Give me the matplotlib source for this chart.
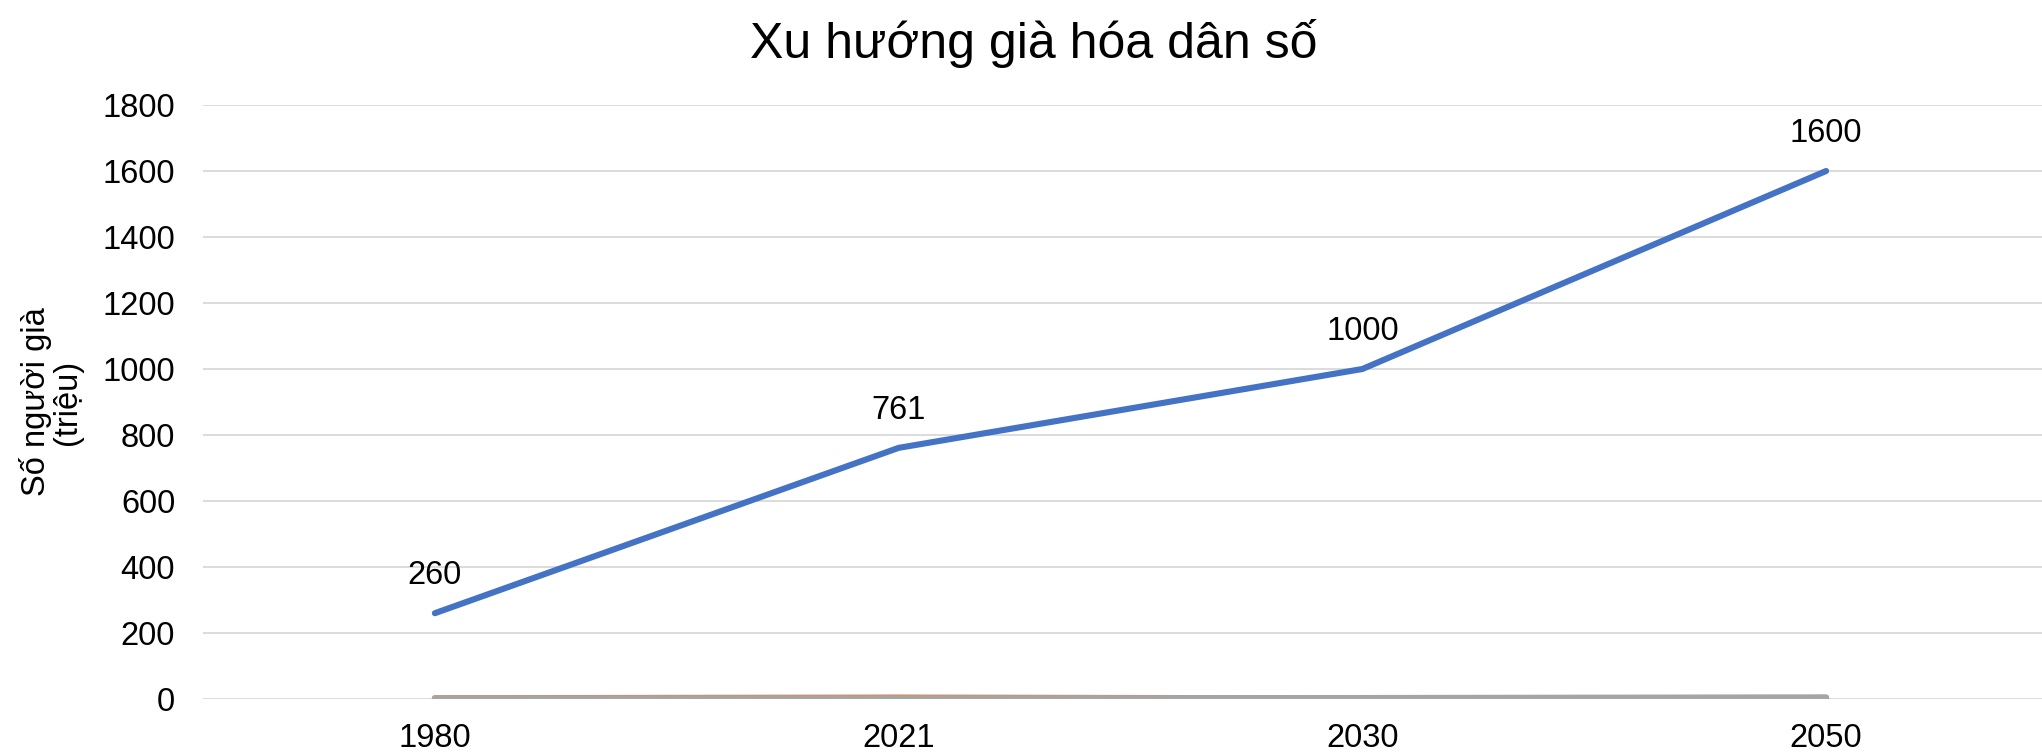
import numpy as np
import matplotlib.pyplot as plt

plt.rcParams['font.family'] = ['Liberation Sans', 'DejaVu Sans']

years = ['1980', '2021', '2030', '2050']
elderly = [260, 761, 1000, 1600]
series2 = [2.4, 4.4, 1.8, 2.8]
series3 = [2, 2, 3, 5]

W, H = 2042, 753
fig = plt.figure(figsize=(W / 100, H / 100), dpi=100)
left, right, top, bottom = 203, 2058, 105, 699
ax = fig.add_axes([left / W, 1 - bottom / H, (right - left) / W, (bottom - top) / H])

x = np.arange(len(years))
ax.plot(x, series2, color='#ED7D31', lw=4.4, solid_capstyle='round', zorder=3)
ax.plot(x, series3, color='#A5A5A5', lw=4.4, solid_capstyle='round', zorder=3)
ax.plot(x, elderly, color='#4472C4', lw=4.4, solid_capstyle='round', zorder=4)

for xi, v in zip(x, elderly):
    ax.annotate(str(v), (xi, v), xytext=(0, 27), textcoords='offset points',
                ha='center', va='center', fontsize=23.5)

ax.set_xlim(-0.5, len(years) - 0.5)
ax.set_ylim(0, 1800)
ax.set_yticks(np.arange(0, 1801, 200))
ax.set_xticks(x)
ax.set_xticklabels(years)
ax.tick_params(axis='both', length=0, labelsize=23.5)
ax.tick_params(axis='y', pad=20)
ax.tick_params(axis='x', pad=17)
ax.grid(axis='y', color='#D9D9D9', lw=1.3)
ax.set_axisbelow(True)
for s in ax.spines.values():
    s.set_visible(False)

ax.set_ylabel('Số người già\n(triệu)', fontsize=23.5, labelpad=14, linespacing=1.0)
fig.text(1034 / W, 1 - 43 / H, 'Xu hướng già hóa dân số', ha='center', va='center',
         fontsize=36)

fig.savefig('out.png', dpi=100)
